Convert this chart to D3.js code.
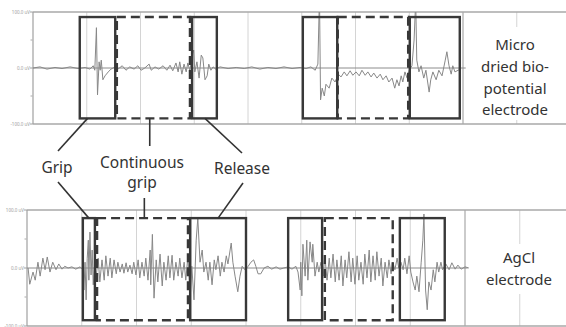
<!DOCTYPE html>
<html><head><meta charset="utf-8">
<script src="https://cdn.jsdelivr.net/npm/d3@7"></script>
<style>html,body{margin:0;padding:0;background:#fff;} svg{display:block;font-family:"Noto Sans","Open Sans",sans-serif;}</style>
</head><body><svg id="c" width="566" height="327"></svg>
<script>
// ---------- data ----------
const timeTicks = [1,2,3,4,5,6,7,8,9];
const ampTicks = [100, 0, -100];
const ampTickLabels = ["100.0 uV","0.0 uV","-100.0 uV"];
const minorAmpTicks = [50, -50];
const phaseNames = ["Grip", "Continuous", "grip", "Release"];
const microLabel = ["Micro","dried bio-","potential","electrode"];
const agclLabel = ["AgCl","electrode"];
// boxes: [start s, end s, phase 0=grip 1=continuous 2=release]
const microBoxes = [[0.87,1.53,0],[1.56,2.92,1],[2.96,3.42,2],[5.02,5.66,0],[5.67,6.98,1],[7.01,7.94,2]];
const microBoxAmp = [-90, 91];
const agclBoxes = [[1.02,1.24,0],[1.28,2.94,1],[2.98,4.00,2],[4.77,5.39,0],[5.44,6.68,1],[6.81,7.63,2]];
const agclBoxAmp = [-90, 86];
// signals: [time s, amplitude uV]
const microSignal = [
[0,0],[0.13,2],[0.26,-2],[0.41,1],[0.54,-1],[0.69,2],[0.84,-1],[0.97,1],[1.06,-2],[1.12,4],[1.15,-4],[1.18,72],[1.20,-48],[1.23,11],[1.25,-4],[1.27,14],[1.30,-21],[1.34,-14],[1.40,-7],[1.45,-2],[1.53,2],[1.58,-2],[1.66,4],[1.73,-4],[1.80,2],[1.88,-2],[1.95,4],[2.01,-4],[2.08,0],[2.16,7],[2.20,-4],[2.27,2],[2.34,-2],[2.42,4],[2.49,-4],[2.55,5],[2.60,-5],[2.66,9],[2.70,-7],[2.73,11],[2.77,-11],[2.81,7],[2.85,-7],[2.88,9],[2.92,-5],[2.96,23],[2.99,32],[3.01,-7],[3.05,11],[3.09,-18],[3.13,23],[3.16,18],[3.20,-21],[3.24,-14],[3.27,7],[3.31,-4],[3.35,2],[3.40,-2],[3.48,2],[3.63,-1],[3.78,1],[3.93,-1],[4.07,2],[4.22,-2],[4.37,1],[4.52,-1],[4.67,2],[4.82,-1],[4.97,1],[5.08,-1],[5.17,2],[5.25,-4],[5.30,7],[5.33,130],[5.35,-57],[5.38,-36],[5.42,-50],[5.45,-29],[5.51,-36],[5.56,-18],[5.62,-25],[5.68,-11],[5.73,-16],[5.79,-7],[5.84,-14],[5.90,-5],[5.95,-13],[6.01,-7],[6.07,-14],[6.12,-4],[6.18,-13],[6.23,-7],[6.29,-16],[6.34,-9],[6.40,-18],[6.46,-11],[6.51,-21],[6.57,-14],[6.62,-25],[6.68,-18],[6.73,-36],[6.77,-21],[6.81,-32],[6.85,-14],[6.88,-25],[6.92,-7],[6.96,-18],[7.00,-4],[7.05,4],[7.09,50],[7.12,120],[7.14,14],[7.18,-7],[7.22,4],[7.27,-18],[7.31,-4],[7.37,-43],[7.40,-21],[7.44,-7],[7.50,-21],[7.55,-4],[7.61,-14],[7.67,14],[7.70,29],[7.74,4],[7.78,-11],[7.81,4],[7.85,-7],[7.91,-4],[7.96,-2]
];
const agclSignal = [
[0.02,0],[0.05,-28],[0.11,-7],[0.15,-21],[0.20,10],[0.24,-14],[0.29,17],[0.33,-3],[0.37,19],[0.42,-7],[0.47,10],[0.53,-3],[0.58,7],[0.64,-2],[0.69,3],[0.75,0],[0.82,2],[0.89,-2],[0.97,2],[1.02,-3],[1.04,-38],[1.06,10],[1.08,-55],[1.10,17],[1.12,48],[1.13,-21],[1.15,62],[1.17,-12],[1.19,31],[1.21,-29],[1.24,10],[1.26,-17],[1.30,17],[1.33,-24],[1.37,14],[1.41,-21],[1.44,21],[1.48,-14],[1.52,17],[1.55,-17],[1.59,14],[1.63,-10],[1.66,10],[1.70,-7],[1.74,7],[1.77,-9],[1.81,9],[1.84,-7],[1.88,5],[1.92,-10],[1.95,10],[1.99,-12],[2.03,14],[2.06,-17],[2.10,10],[2.14,-14],[2.17,17],[2.21,-21],[2.25,31],[2.26,-29],[2.29,58],[2.32,-52],[2.36,14],[2.39,-24],[2.43,24],[2.47,-31],[2.50,10],[2.54,-21],[2.58,21],[2.61,-17],[2.65,22],[2.68,-21],[2.72,10],[2.76,-14],[2.79,17],[2.83,-17],[2.87,10],[2.90,-21],[2.94,21],[2.98,-55],[3.01,3],[3.05,-55],[3.09,48],[3.12,86],[3.16,10],[3.20,31],[3.23,-7],[3.27,10],[3.31,-21],[3.34,10],[3.38,-29],[3.42,14],[3.45,-3],[3.49,21],[3.53,-14],[3.56,10],[3.60,-7],[3.64,21],[3.67,7],[3.73,43],[3.76,10],[3.80,-14],[3.85,-41],[3.89,-14],[3.93,3],[3.98,-3],[4.04,3],[4.09,10],[4.14,14],[4.18,3],[4.22,-10],[4.27,-10],[4.33,0],[4.40,3],[4.47,-2],[4.55,2],[4.62,-2],[4.69,0],[4.77,2],[4.84,-2],[4.91,3],[4.95,-7],[4.99,-38],[5.00,10],[5.02,-48],[5.04,41],[5.08,-14],[5.11,48],[5.13,-21],[5.17,45],[5.21,10],[5.22,41],[5.26,-14],[5.30,10],[5.33,-7],[5.37,10],[5.41,-14],[5.44,21],[5.48,-21],[5.52,17],[5.55,-17],[5.59,24],[5.63,-24],[5.66,14],[5.70,-21],[5.74,21],[5.77,-31],[5.81,14],[5.84,-17],[5.88,28],[5.92,-24],[5.95,17],[5.99,-28],[6.03,21],[6.06,-21],[6.10,10],[6.14,-28],[6.17,24],[6.21,-17],[6.25,31],[6.28,-24],[6.32,21],[6.36,-21],[6.39,28],[6.43,-14],[6.47,17],[6.50,-31],[6.54,10],[6.58,-17],[6.61,14],[6.65,-10],[6.68,10],[6.72,-3],[6.76,17],[6.79,0],[6.83,10],[6.87,-3],[6.90,17],[6.94,-10],[6.98,21],[7.01,-7],[7.05,-24],[7.09,-38],[7.12,-14],[7.16,-41],[7.20,10],[7.23,48],[7.25,93],[7.28,-38],[7.31,-72],[7.34,-24],[7.38,-38],[7.42,-3],[7.45,-24],[7.49,10],[7.52,-7],[7.56,10],[7.59,-3],[7.65,7],[7.71,-3],[7.76,9],[7.82,-2],[7.87,5],[7.93,-2],[8.00,2],[8.07,0]
];

// ---------- drawing ----------
const svg = d3.select("#c");
const W = 566;
const panels = [
  {id:"micro", x: d3.scaleLinear([0,8],[33,463]), y: d3.scaleLinear([-100,100],[124,12]),
   signal: microSignal, boxes: microBoxes, boxAmp: microBoxAmp, label: microLabel,
   labelX: 515, labelBase: 50, labelStep: 21.8, maskY:[27,120]},
  {id:"agcl", x: d3.scaleLinear([0,8],[27,465]), y: d3.scaleLinear([-100,100],[326,210]),
   signal: agclSignal, boxes: agclBoxes, boxAmp: agclBoxAmp, label: agclLabel,
   labelX: 519, labelBase: 263, labelStep: 22, maskY:[244,294]}
];

const defs = svg.append("defs");
panels.forEach(p => {
  const [x0] = p.x.range(); const [yb, yt] = p.y.range();
  defs.append("clipPath").attr("id","clip-"+p.id).append("rect")
    .attr("x", x0).attr("y", yt).attr("width", W - x0).attr("height", yb - yt);
  const g = svg.append("g");
  g.selectAll("line.grid").data(timeTicks).join("line")
    .attr("x1", d => p.x(d)).attr("x2", d => p.x(d)).attr("y1", yt).attr("y2", yb)
    .attr("stroke", d => d === 8 ? "#b5b5b5" : "#d4d4d4").attr("stroke-width", d => d === 8 ? 1.4 : 1);
  g.append("rect").attr("x", p.x(8)+6).attr("y", p.maskY[0]).attr("width", W - p.x(8) - 8)
    .attr("height", p.maskY[1]-p.maskY[0]).attr("fill","#fff");
  g.append("line").attr("x1", x0).attr("x2", W).attr("y1", yt).attr("y2", yt).attr("stroke","#a8a8a8").attr("stroke-width",1.3);
  g.append("line").attr("x1", x0).attr("x2", W).attr("y1", yb).attr("y2", yb).attr("stroke","#a8a8a8").attr("stroke-width",1.3);
  g.append("line").attr("x1", x0).attr("x2", x0).attr("y1", yt).attr("y2", yb).attr("stroke","#a0a0a0").attr("stroke-width",1.2);
  g.selectAll("text.amp").data(ampTicks).join("text")
    .attr("x", x0 - 3).attr("y", d => p.y(d) + 1.5).attr("text-anchor","end")
    .attr("font-size", 4.5).attr("fill","#9a9a9a")
    .text((d,i) => ampTickLabels[i]);
  g.selectAll("line.amptick").data(ampTicks).join("line")
    .attr("x1", x0 - 3).attr("x2", x0).attr("y1", d => p.y(d)).attr("y2", d => p.y(d)).attr("stroke","#a0a0a0");
  g.selectAll("line.minor").data(minorAmpTicks).join("line")
    .attr("x1", x0 - 2.5).attr("x2", x0 - 0.5).attr("y1", d => p.y(d)).attr("y2", d => p.y(d)).attr("stroke","#aaa");
  g.append("line").attr("x1", x0).attr("x2", p.x(8.05)).attr("y1", p.y(0)).attr("y2", p.y(0))
    .attr("stroke","#8c8c8c").attr("stroke-width",1);
  const line = d3.line().x(d => p.x(d[0])).y(d => p.y(d[1]));
  g.append("path").datum(p.signal).attr("d", line).attr("clip-path","url(#clip-"+p.id+")")
    .attr("fill","none").attr("stroke","#888").attr("stroke-width",1).attr("stroke-linejoin","round");
  g.selectAll("rect.box").data(p.boxes).join("rect")
    .attr("x", d => p.x(d[0])).attr("width", d => p.x(d[1]) - p.x(d[0]))
    .attr("y", p.y(p.boxAmp[1])).attr("height", p.y(p.boxAmp[0]) - p.y(p.boxAmp[1]))
    .attr("fill","none").attr("stroke","#383838").attr("stroke-width", 2.4)
    .attr("stroke-dasharray", d => d[2] === 1 ? "9,5" : null);
  g.append("text").attr("x", p.labelX).attr("text-anchor","middle")
    .attr("font-size", 15).attr("fill","#333")
    .selectAll("tspan").data(p.label).join("tspan")
    .attr("x", p.labelX).attr("y", (d,i) => p.labelBase + i*p.labelStep).text(d => d);
});

const P0 = panels[0], P1 = panels[1];
const at = (p, box, f) => p.x(box[0] + f*(box[1]-box[0]));
const ann = svg.append("g").attr("fill","#333").attr("font-size",15.5);
ann.append("text").attr("x",57).attr("y",173).attr("text-anchor","middle").text(phaseNames[0]);
ann.append("text").attr("x",142).attr("y",168).attr("text-anchor","middle").text(phaseNames[1]);
ann.append("text").attr("x",142).attr("y",188).attr("text-anchor","middle").text(phaseNames[2]);
ann.append("text").attr("x",242).attr("y",174).attr("text-anchor","middle").text(phaseNames[3]);
const connectors = [
  [at(P0, microBoxes[0], 0.22), P0.y(microBoxAmp[0]), 58, 151],
  [58, 182, at(P1, agclBoxes[0], 0.5), P1.y(agclBoxAmp[1])],
  [at(P0, microBoxes[1], 0.45), P0.y(microBoxAmp[0]), at(P0, microBoxes[1], 0.45), 146],
  [at(P1, agclBoxes[1], 0.52), 198, at(P1, agclBoxes[1], 0.52), P1.y(agclBoxAmp[1])],
  [at(P0, microBoxes[2], 0.52), P0.y(microBoxAmp[0]), 242, 153],
  [243, 183, at(P1, agclBoxes[2], 0.5), P1.y(agclBoxAmp[1])]
];
svg.append("g").selectAll("line").data(connectors).join("line")
  .attr("x1", d => d[0]).attr("y1", d => d[1]).attr("x2", d => d[2]).attr("y2", d => d[3])
  .attr("stroke","#333").attr("stroke-width",1.6);
</script></body></html>
